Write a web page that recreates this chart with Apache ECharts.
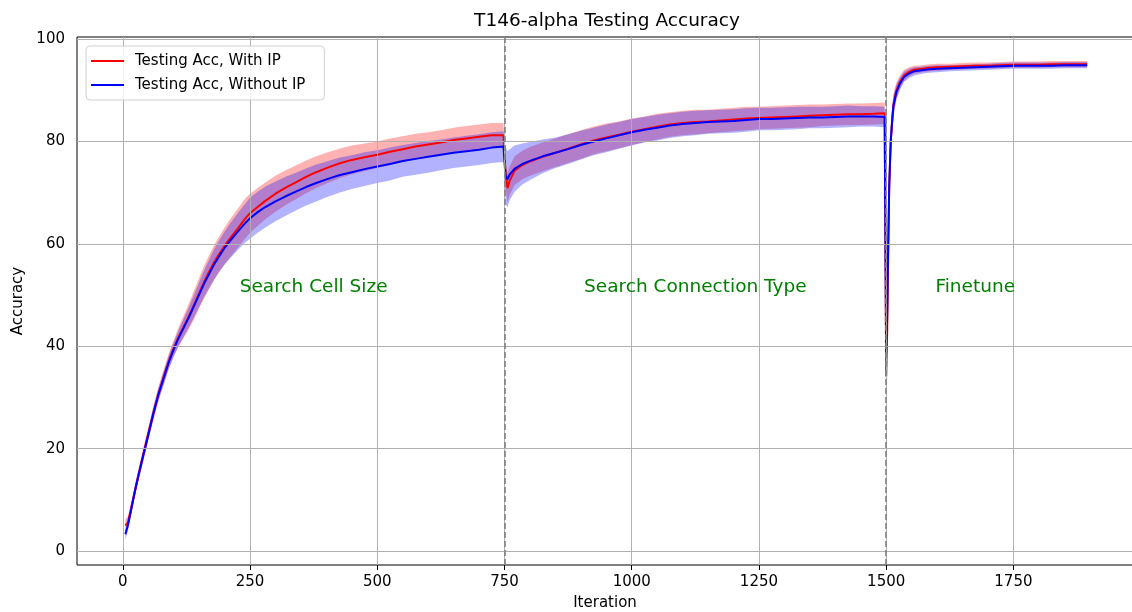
<!DOCTYPE html>
<html>
<head>
<meta charset="utf-8">
<title>T146-alpha Testing Accuracy</title>
<script src="https://cdn.jsdelivr.net/npm/echarts@6/dist/echarts.min.js"></script>
<style>
  html, body { margin: 0; padding: 0; background: #fff; }
  #chart { width: 1132px; height: 612px; }
</style>
</head>
<body>
<div id="chart"></div>
<script>
const iters = [
  5, 10, 15, 20, 25, 30, 40, 50, 60, 70, 80, 90, 100, 110, 120, 130, 140, 150, 160, 170,
  180, 190, 200, 210, 225, 240, 250, 265, 280, 300, 320, 340, 360, 380, 400, 425, 450, 475, 500, 525,
  550, 575, 600, 625, 650, 675, 700, 725, 748,
  752, 756, 760, 770, 785, 800, 825, 850, 875, 900, 925, 950, 975, 1000, 1025, 1050, 1075, 1100, 1125, 1150,
  1175, 1200, 1225, 1250, 1275, 1300, 1325, 1350, 1375, 1400, 1425, 1450, 1475, 1497,
  1500, 1502, 1504, 1506, 1509, 1514, 1520, 1527, 1535, 1545, 1555, 1570, 1585, 1600, 1625, 1650,
  1675, 1700, 1725, 1750, 1775, 1800, 1825, 1850, 1875, 1895
];

// Testing Acc, With IP (mean and spread)
const accWithIP = [
  5.0, 5.6, 7.7, 10.0, 12.3, 14.5, 18.8, 22.9, 26.9, 30.7, 33.9, 37.0, 39.6, 41.9, 43.9, 45.9, 48.1, 50.4, 52.6, 54.6,
  56.5, 58.1, 59.6, 61.0, 62.9, 64.9, 66.0, 67.2, 68.4, 69.8, 71.0, 72.0, 73.1, 74.0, 74.8, 75.7, 76.4, 76.9, 77.4, 78.0,
  78.5, 79.0, 79.4, 79.8, 80.3, 80.6, 80.9, 81.2, 81.2,
  73.8, 70.9, 72.3, 74.3, 75.4, 76.1, 77.0, 77.8, 78.6, 79.4, 80.2, 80.8, 81.3, 81.9, 82.4, 82.9, 83.3, 83.6, 83.8, 83.9,
  84.1, 84.3, 84.5, 84.6, 84.7, 84.8, 84.9, 85.0, 85.1, 85.2, 85.3, 85.3, 85.4, 85.5,
  34.1, 43.0, 58.0, 71.0, 80.0, 87.0, 89.9, 91.6, 92.9, 93.6, 94.0, 94.2, 94.4, 94.5, 94.6, 94.7,
  94.8, 94.8, 94.9, 95.0, 95.0, 95.0, 95.1, 95.1, 95.1, 95.1
];
const stdWithIP = [
  1.2, 1.2, 1.2, 1.2, 1.2, 1.2, 1.3, 1.3, 1.4, 1.4, 1.5, 1.5, 1.6, 1.9, 2.2, 2.5, 2.8, 3.0, 3.2, 3.3,
  3.4, 3.5, 3.6, 3.7, 3.8, 3.9, 3.8, 3.7, 3.6, 3.5, 3.4, 3.3, 3.2, 3.1, 3.0, 2.9, 2.8, 2.7, 2.6, 2.6,
  2.5, 2.5, 2.4, 2.4, 2.4, 2.4, 2.4, 2.4, 2.4,
  3.0, 2.8, 2.8, 2.8, 2.8, 2.8, 2.8, 2.8, 2.8, 2.8, 2.7, 2.7, 2.6, 2.6, 2.5, 2.5, 2.4, 2.4, 2.4, 2.3,
  2.3, 2.3, 2.3, 2.2, 2.2, 2.2, 2.2, 2.2, 2.1, 2.1, 2.1, 2.1, 2.1, 2.1,
  11.0, 9.0, 7.0, 5.0, 3.5, 2.2, 1.6, 1.3, 1.1, 0.9, 0.8, 0.7, 0.7, 0.7, 0.6, 0.6,
  0.6, 0.6, 0.6, 0.6, 0.6, 0.6, 0.6, 0.6, 0.6, 0.6
];

// Testing Acc, Without IP (mean and spread)
const accWithoutIP = [
  3.3, 5.0, 7.4, 9.9, 12.3, 14.5, 18.6, 22.7, 26.9, 30.6, 33.7, 36.8, 39.4, 41.7, 43.7, 45.7, 47.9, 50.1, 52.3, 54.2,
  56.1, 57.7, 59.2, 60.5, 62.3, 64.0, 65.0, 66.2, 67.2, 68.3, 69.3, 70.2, 71.1, 71.9, 72.6, 73.4, 74.0, 74.6, 75.1, 75.6,
  76.2, 76.6, 77.0, 77.4, 77.8, 78.1, 78.4, 78.8, 79.0,
  73.4, 72.6, 73.5, 74.7, 75.6, 76.2, 77.1, 77.8, 78.5, 79.3, 80.0, 80.6, 81.2, 81.8, 82.3, 82.7, 83.1, 83.4, 83.6, 83.8,
  83.9, 84.0, 84.2, 84.4, 84.4, 84.5, 84.6, 84.7, 84.7, 84.8, 84.9, 84.9, 84.9, 84.8,
  38.7, 46.0, 60.0, 71.5, 80.3, 86.8, 89.6, 91.3, 92.6, 93.3, 93.7, 93.9, 94.1, 94.2, 94.3, 94.4,
  94.5, 94.6, 94.7, 94.8, 94.8, 94.8, 94.8, 94.9, 94.9, 94.9
];
const stdWithoutIP = [
  1.0, 1.0, 1.0, 1.0, 1.0, 1.0, 1.1, 1.1, 1.2, 1.2, 1.3, 1.3, 1.4, 1.6, 1.8, 2.0, 2.2, 2.4, 2.6, 2.8,
  3.0, 3.1, 3.2, 3.4, 3.6, 3.8, 4.0, 4.0, 4.0, 3.9, 3.8, 3.7, 3.6, 3.6, 3.5, 3.4, 3.3, 3.3, 3.2, 3.2,
  3.1, 3.1, 3.1, 3.0, 3.0, 3.0, 3.0, 3.0, 3.0,
  5.5, 5.5, 5.0, 4.5, 4.0, 3.7, 3.3, 3.0, 2.9, 2.8, 2.7, 2.7, 2.6, 2.6, 2.5, 2.5, 2.4, 2.4, 2.4, 2.3,
  2.3, 2.3, 2.3, 2.2, 2.2, 2.2, 2.2, 2.1, 2.1, 2.1, 2.1, 2.0, 2.0, 2.0,
  6.0, 6.0, 5.0, 4.0, 3.0, 2.0, 1.5, 1.2, 1.0, 0.9, 0.8, 0.7, 0.7, 0.7, 0.6, 0.6,
  0.6, 0.6, 0.6, 0.6, 0.6, 0.6, 0.6, 0.6, 0.6, 0.6
];

// axis ticks
const xTicks = [0, 250, 500, 750, 1000, 1250, 1500, 1750];
const yTicks = [0, 20, 40, 60, 80, 100];

// phase boundaries and labels
const phaseBounds = [750, 1500];
const phaseNames = ["Search Cell Size", "Search Connection Type", "Finetune"];
const phaseNameX = [375, 1125, 1675];
const phaseNameY = [51.6, 51.6, 51.6];

const FONT = "DejaVu Sans";

function pairs(ys) {
  return iters.map((x, i) => [x, ys[i]]);
}

// mean +/- std band, drawn as one polygon through the axis scales
function bandSeries(mean, std, color) {
  const rows = iters.map((x, i) => [x, mean[i] - std[i], mean[i] + std[i]]);
  return {
    type: "custom",
    silent: true,
    z: 2,
    clip: true,
    encode: { x: 0, y: [1, 2] },
    data: rows,
    renderItem: function (params, api) {
      if (params.dataIndex !== 0) return null;
      const pts = [];
      for (let i = 0; i < rows.length; i++) pts.push(api.coord([rows[i][0], rows[i][2]]));
      for (let i = rows.length - 1; i >= 0; i--) pts.push(api.coord([rows[i][0], rows[i][1]]));
      return {
        type: "polygon",
        shape: { points: pts },
        style: { fill: color }
      };
    }
  };
}

const gridLines = xTicks.map(v => ({ xAxis: v })).concat(yTicks.map(v => ({ yAxis: v })));

const chart = echarts.init(document.getElementById("chart"));
chart.setOption({
  animation: false,
  textStyle: { fontFamily: FONT },
  title: {
    text: "T146-alpha Testing Accuracy",
    left: 607,
    top: 12,
    padding: 0,
    textAlign: "center",
    textStyle: { fontFamily: FONT, fontSize: 18.5, fontWeight: "normal", color: "#000" }
  },
  legend: {
    orient: "vertical",
    left: 86,
    top: 46,
    padding: [6, 19, 6, 5],
    itemWidth: 33,
    itemHeight: 2,
    itemGap: 6,
    backgroundColor: "rgba(255,255,255,0.8)",
    borderColor: "#d0d0d0",
    borderWidth: 1,
    borderRadius: 4,
    textStyle: { fontFamily: FONT, fontSize: 15, color: "#000", lineHeight: 18, padding: [0, 0, 0, 6] },
    data: [
      { name: "Testing Acc, With IP", icon: "rect" },
      { name: "Testing Acc, Without IP", icon: "rect" }
    ],
    z: 10
  },
  grid: {
    left: 77,
    right: -1,
    top: 37,
    bottom: 47,
    outerBoundsMode: "none",
    containLabel: false,
    show: true,
    borderColor: "#000",
    borderWidth: 1,
    backgroundColor: "transparent"
  },
  xAxis: {
    type: "value",
    min: -90,
    max: 1985,
    name: "Iteration",
    nameLocation: "middle",
    nameGap: 31,
    nameTextStyle: { fontFamily: FONT, fontSize: 15, color: "#000" },
    axisLine: { show: false, onZero: false },
    axisTick: { show: true, length: 5, customValues: xTicks, lineStyle: { color: "#000" } },
    axisLabel: {
      customValues: xTicks, fontSize: 15, color: "#000", margin: 10, fontFamily: FONT,
      formatter: v => String(v)
    },
    splitLine: { show: false }
  },
  yAxis: {
    type: "value",
    min: -2.7,
    max: 100.4,
    name: "Accuracy",
    nameLocation: "middle",
    nameGap: 46,
    nameTextStyle: { fontFamily: FONT, fontSize: 15, color: "#000" },
    axisLine: { show: false },
    axisTick: { show: true, length: 5, customValues: yTicks, lineStyle: { color: "#000" } },
    axisLabel: {
      customValues: yTicks, fontSize: 15, color: "#000", margin: 12, fontFamily: FONT,
      formatter: v => String(v)
    },
    splitLine: { show: false }
  },
  series: [
    {
      // grid lines under the data
      type: "line",
      data: [],
      silent: true,
      z: 1,
      markLine: {
        silent: true,
        symbol: "none",
        label: { show: false },
        lineStyle: { color: "#b0b0b0", width: 1, type: "solid" },
        data: gridLines
      }
    },
    bandSeries(accWithIP, stdWithIP, "rgba(255,0,0,0.3)"),
    bandSeries(accWithoutIP, stdWithoutIP, "rgba(0,0,255,0.3)"),
    {
      name: "Testing Acc, With IP",
      type: "line",
      data: pairs(accWithIP),
      symbol: "none",
      color: "#ff0000",
      lineStyle: { color: "#ff0000", width: 2 },
      z: 3
    },
    {
      name: "Testing Acc, Without IP",
      type: "line",
      data: pairs(accWithoutIP),
      symbol: "none",
      color: "#0000ff",
      lineStyle: { color: "#0000ff", width: 2 },
      z: 4
    },
    {
      // phase boundaries and phase names
      type: "line",
      data: [],
      silent: true,
      z: 5,
      markLine: {
        silent: true,
        symbol: "none",
        label: { show: false },
        lineStyle: { color: "#808080", width: 1.6, type: [6, 3] },
        data: phaseBounds.map(v => ({ xAxis: v }))
      },
      markPoint: {
        silent: true,
        symbol: "circle",
        symbolSize: 0,
        label: {
          show: true,
          position: "inside",
          fontFamily: FONT,
          fontSize: 18.5,
          color: "green",
          formatter: p => p.name
        },
        data: phaseNames.map((n, i) => ({ name: n, coord: [phaseNameX[i], phaseNameY[i]] }))
      }
    }
  ]
});
</script>
</body>
</html>
